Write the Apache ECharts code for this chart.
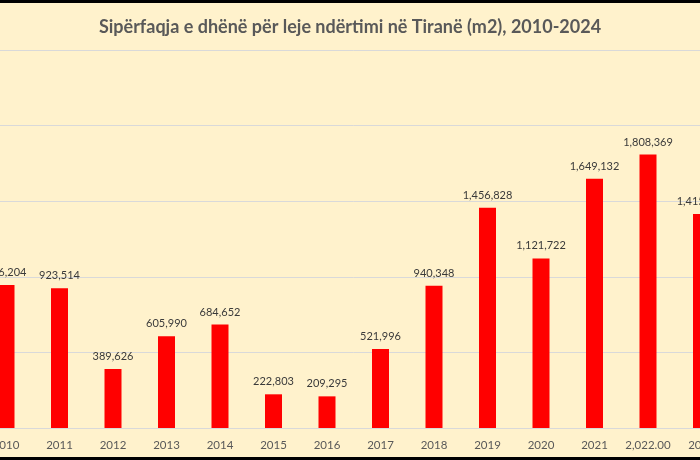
<!DOCTYPE html>
<html>
<head>
<meta charset="utf-8">
<script src="https://cdn.jsdelivr.net/npm/echarts@6/dist/echarts.min.js"></script>
<style>
html,body{margin:0;padding:0;background:#000;width:700px;height:460px;overflow:hidden;position:relative;}
#main{position:absolute;left:-60px;top:3px;width:820px;height:454px;}
</style>
</head>
<body>
<div id="main"></div>
<script>
const titleText = 'Sipërfaqja e dhënë për leje ndërtimi në Tiranë (m2), 2010-2024';
const categories = ['2010','2011','2012','2013','2014','2015','2016','2017','2018','2019','2020','2021','2,022.00','2023'];
const values = [946204, 923514, 389626, 605990, 684652, 222803, 209295, 521996, 940348, 1456828, 1121722, 1649132, 1808369, 1415000];

const chart = echarts.init(document.getElementById('main'));
const fontFam = 'Lato, "Open Sans", sans-serif';
chart.setOption({
  backgroundColor: '#FFF2CC',
  animation: false,
  title: {
    text: titleText,
    left: 'center',
    top: 10,
    textStyle: {fontFamily: fontFam, fontSize: 18, fontWeight: 'bold', color: '#595959'}
  },
  grid: {left: 39.25, right: 31.75, top: 47, bottom: 29, containLabel: false},
  xAxis: {
    type: 'category',
    data: categories,
    axisLine: {lineStyle: {color: '#D9D9D9', width: 1}},
    axisTick: {show: false},
    axisLabel: {interval: 0, color: '#595959', fontFamily: fontFam, fontSize: 11.5, margin: 11}
  },
  yAxis: {
    type: 'value',
    min: 0, max: 2500000, interval: 500000,
    axisLabel: {show: false},
    axisLine: {show: false},
    axisTick: {show: false},
    splitLine: {lineStyle: {color: '#D9D9D9', width: 1}}
  },
  series: [{
    type: 'bar',
    data: values,
    barWidth: 17,
    itemStyle: {color: '#FF0000'},
    label: {
      show: true,
      position: 'top',
      distance: 7,
      color: '#3a3a3a',
      fontFamily: fontFam,
      fontSize: 11,
      formatter: p => p.value.toLocaleString('en-US')
    }
  }]
});
</script>
</body>
</html>
